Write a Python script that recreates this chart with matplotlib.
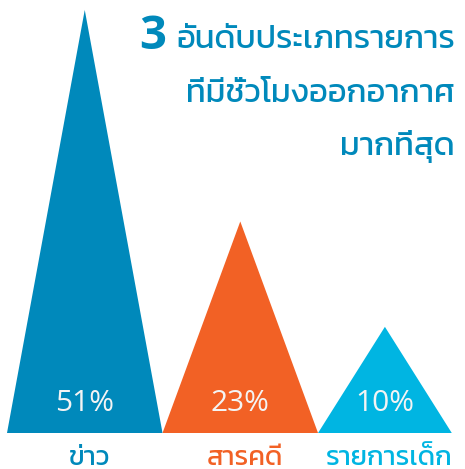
import matplotlib
matplotlib.use("Agg")
import matplotlib.pyplot as plt
from matplotlib.patches import Polygon

# data
categories = ["ข่าว", "สารคดี", "รายการเด็ก"]
shares = [51, 23, 10]
peak_heights = [51, 25.5, 12.8]      # triangle heights as drawn in the source
base_widths = [1.0, 1.0, 0.86]
colors = ["#0089BB", "#F26125", "#00B5E2"]
title_lines = ["อันดับประเภทรายการ", "ที่มีชั่วโมงออกอากาศ", "มากที่สุด"]
thai_font = ["Kanit", "DejaVu Sans"]

fig = plt.figure(figsize=(4.65, 4.69), dpi=100)
ax = fig.add_axes([0, 0, 1, 1])
ax.set_xlim(-0.045, 2.945)
ax.set_ylim(-4.34, 52.2)
ax.axis("off")

left = 0.0
for cat, pct, h, w, c in zip(categories, shares, peak_heights, base_widths, colors):
    mid = left + w / 2
    tri = Polygon([(left, 0), (mid, h), (left + w, 0)], closed=True, color=c, lw=0)
    ax.add_patch(tri)
    ax.text(mid, 3.55, f"{pct}%", color="#F4F4F4", fontsize=21.5, family="Open Sans",
            ha="center", va="center")
    ax.text(mid + 0.03, -3.85, cat, color=c, fontsize=19.5, family=thai_font,
            ha="center", va="baseline")
    left += w

# title block, right aligned
tx = 455 / 465
for line, base in zip(title_lines, [48, 102, 155]):
    ax.text(tx, 1 - base / 469, line, transform=fig.transFigure, color="#0089BB",
            fontsize=23.5, family=thai_font, ha="right", va="baseline")
ax.text(139 / 465, 1 - 49 / 469, "3", transform=fig.transFigure, color="#0089BB",
        fontsize=34, family="Open Sans", fontweight="bold", ha="left", va="baseline")

fig.savefig("out.png", dpi=100)
